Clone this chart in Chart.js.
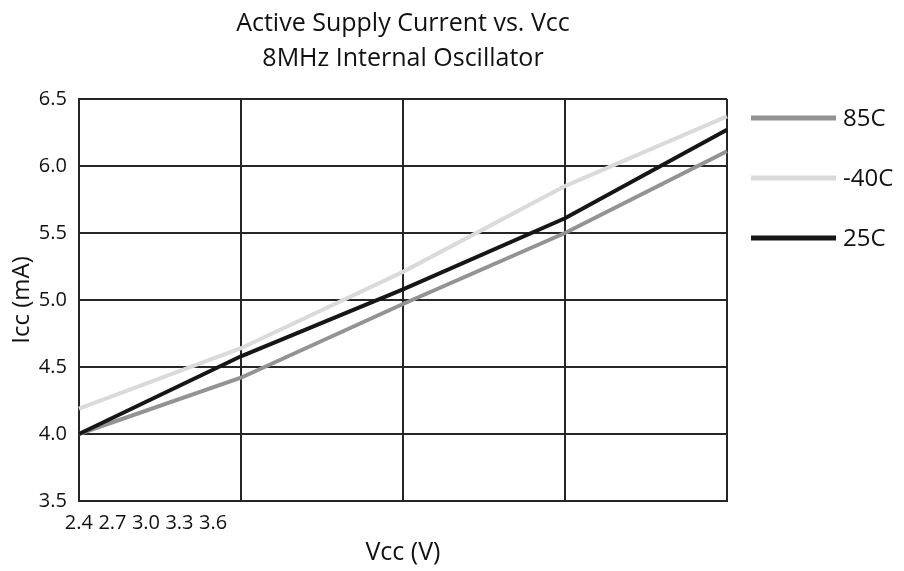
<!DOCTYPE html>
<html>
<head>
<meta charset="utf-8">
<title>Active Supply Current vs. Vcc</title>
<script src="https://cdn.jsdelivr.net/npm/chart.js@4.4.1/dist/chart.umd.min.js"></script>
<style>
    html, body { margin: 0; padding: 0; background: #fff; }
    #wrap { width: 904px; height: 571px; }
</style>
</head>
<body>
<div id="wrap"><canvas id="iccChart" width="904" height="571"></canvas></div>
<script>
// Supply voltage points (V) - also used as the crowded tick labels
const vccPoints = [2.4, 2.7, 3.0, 3.3, 3.6];

// Supply current (mA) per temperature
const icc85C = [4.0, 4.42, 4.97, 5.50, 6.11];
const iccMinus40C = [4.19, 4.64, 5.21, 5.85, 6.37];
const icc25C = [4.0, 4.58, 5.08, 5.61, 6.27];

const seriesNames = ['85C', '-40C', '25C'];
const yTicks = [3.5, 4.0, 4.5, 5.0, 5.5, 6.0, 6.5];

const fontFamily = "'Open Sans', 'Noto Sans', sans-serif";
const gridColor = '#262626';

// Simple legend on the right: line sample + label
const sideLegend = {
    id: 'sideLegend',
    afterDraw(chart) {
        const ctx = chart.ctx;
        const x0 = chart.chartArea.right + 24;
        ctx.save();
        ctx.font = '24px ' + fontFamily;
        ctx.textBaseline = 'middle';
        chart.data.datasets.forEach((ds, i) => {
            const y = 118 + i * 60;
            ctx.strokeStyle = ds.borderColor;
            ctx.lineWidth = 5;
            ctx.beginPath();
            ctx.moveTo(x0, y);
            ctx.lineTo(x0 + 85, y);
            ctx.stroke();
            ctx.fillStyle = '#111';
            ctx.fillText(ds.label, x0 + 92, y + 1);
        });
        ctx.restore();
    }
};

const ctx = document.getElementById('iccChart').getContext('2d');
const iccChart = new Chart(ctx, {
    type: 'line',
    data: {
        labels: vccPoints.map(v => v.toFixed(1)),
        datasets: [
            {
                label: seriesNames[0],
                data: icc85C,
                borderColor: '#939393',
                borderWidth: 4,
                pointRadius: 0,
                tension: 0,
                order: 2
            },
            {
                label: seriesNames[1],
                data: iccMinus40C,
                borderColor: '#dadada',
                borderWidth: 4,
                pointRadius: 0,
                tension: 0,
                order: 3
            },
            {
                label: seriesNames[2],
                data: icc25C,
                borderColor: '#161616',
                borderWidth: 4,
                pointRadius: 0,
                tension: 0,
                order: 1
            }
        ]
    },
    options: {
        responsive: false,
        animation: false,
        layout: {
            padding: { left: 8, right: 177, top: 4, bottom: 3 }
        },
        plugins: {
            legend: { display: false },
            tooltip: { enabled: false },
            title: {
                display: true,
                fullSize: false,
                text: ['Active Supply Current vs. Vcc', '8MHz Internal Oscillator'],
                color: '#111',
                font: { family: fontFamily, size: 25, weight: 'normal', lineHeight: 1.42 },
                padding: { top: 2, bottom: 22 }
            }
        },
        scales: {
            x: {
                type: 'category',
                offset: false,
                ticks: { display: false },
                grid: { color: gridColor, lineWidth: 2, drawTicks: false, tickLength: 0 },
                border: { color: gridColor, width: 2 }
            },
            xTicks: {
                type: 'linear',
                position: 'bottom',
                min: 2.4,
                max: 8.2,
                afterBuildTicks: scale => {
                    scale.ticks = vccPoints.map(v => ({ value: v }));
                },
                ticks: {
                    autoSkip: false,
                    maxRotation: 0,
                    padding: 2,
                    color: '#111',
                    font: { family: fontFamily, size: 20 },
                    callback: v => Number(v).toFixed(1)
                },
                grid: { display: false },
                border: { display: false },
                title: {
                    display: true,
                    text: 'Vcc (V)',
                    color: '#111',
                    font: { family: fontFamily, size: 25 },
                    padding: { top: 1, bottom: 0 }
                }
            },
            y: {
                min: 3.5,
                max: 6.5,
                afterBuildTicks: scale => {
                    scale.ticks = yTicks.map(v => ({ value: v }));
                },
                ticks: {
                    padding: 12,
                    color: '#111',
                    font: { family: fontFamily, size: 20 },
                    callback: v => Number(v).toFixed(1)
                },
                grid: { color: gridColor, lineWidth: 2, drawTicks: false },
                border: { color: gridColor, width: 2 },
                title: {
                    display: true,
                    text: 'Icc (mA)',
                    color: '#111',
                    font: { family: fontFamily, size: 24 },
                    padding: { top: 0, bottom: -10 }
                }
            }
        }
    },
    plugins: [sideLegend]
});
</script>
</body>
</html>
